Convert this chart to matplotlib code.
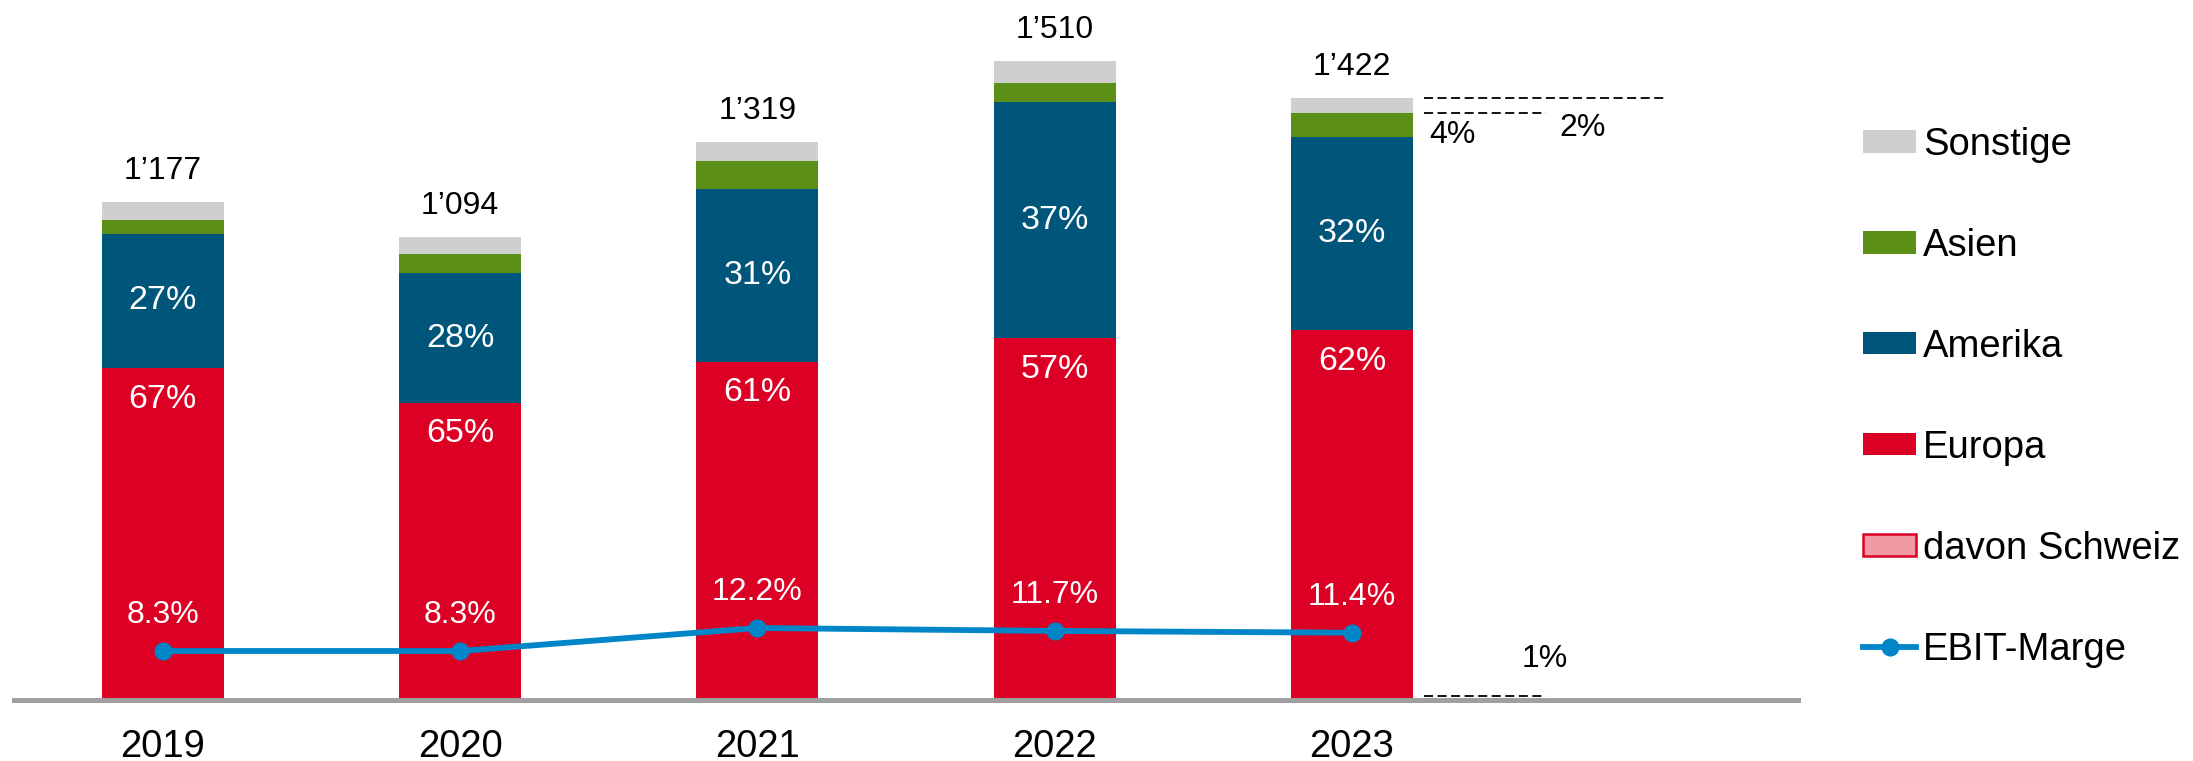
import matplotlib
matplotlib.use("Agg")
import matplotlib.pyplot as plt
from matplotlib.patches import Patch
from matplotlib.lines import Line2D

plt.rcParams['font.family'] = ['Liberation Sans', 'DejaVu Sans']

# Umsatz nach Regionen (Mio.)
jahre = ['2019', '2020', '2021', '2022', '2023']
europa = [784, 702, 799, 855, 874]
amerika = [318, 307, 409, 558, 456]
asien = [33, 45, 66, 45, 57]
sonstige = [42, 40, 45, 52, 35]
schweiz = [5, 5, 5, 5, 5]
total = [1177, 1094, 1319, 1510, 1422]
total_txt = ['1\u2019177', '1\u2019094', '1\u2019319', '1\u2019510', '1\u2019422']
europa_pct = ['67%', '65%', '61%', '57%', '62%']
amerika_pct = ['27%', '28%', '31%', '37%', '32%']
ebit = [8.3, 8.3, 12.2, 11.7, 11.4]
ebit_txt = ['8.3%', '8.3%', '12.2%', '11.7%', '11.4%']

# Anteile 2023 (Beschriftung rechts)
anteil_asien = '4%'
anteil_sonstige = '2%'
anteil_schweiz = '1%'

c_sonst = '#cfcfcf'
c_asien = '#5b8f16'
c_amer = '#00557a'
c_eur = '#dc0025'
c_ch = '#f19aa6'
c_ebit = '#0086c8'

fig = plt.figure(figsize=(21.93, 7.61), dpi=100)
ax = fig.add_axes([14/2193, 61/761, 1784/2193, 677/761])

x = list(range(len(jahre)))
w = 0.41

b_amer = europa
b_asien = [europa[i] + amerika[i] for i in x]
b_sonst = [b_asien[i] + asien[i] for i in x]

ax.bar(x, europa, w, color=c_eur, zorder=2)
ax.bar(x, schweiz, w*0.95, color=c_ch, edgecolor=c_eur, linewidth=0.8, zorder=3)
ax.bar(x, amerika, w, bottom=b_amer, color=c_amer, zorder=2)
ax.bar(x, asien, w, bottom=b_asien, color=c_asien, zorder=2)
ax.bar(x, sonstige, w, bottom=b_sonst, color=c_sonst, zorder=2)

ax.set_xlim(-0.5, 5.5)
ax.set_ylim(0, 1600)
ax.axhline(0, color='#a0a0a0', lw=3.6, zorder=4, clip_on=False)
for s in ax.spines.values():
    s.set_visible(False)
ax.set_xticks([])
ax.set_yticks([])

for i in x:
    ax.annotate(total_txt[i], (i, total[i]), xytext=(0, 31), textcoords='offset pixels',
                ha='center', va='center', fontsize=23, color='black')
    ax.text(i, europa[i] + amerika[i]/2, amerika_pct[i], ha='center', va='center',
            fontsize=24.5, color='white', zorder=5)
    ax.annotate(europa_pct[i], (i, europa[i]), xytext=(0, -31), textcoords='offset pixels',
                ha='center', va='center', fontsize=24.5, color='white', zorder=5)
    ax.annotate(jahre[i], (i, 0), xytext=(0, -47), textcoords='offset pixels',
                ha='center', va='center', fontsize=27.5, color='black')

# gestrichelte Hilfslinien 2023
dash = (0, (5, 2.5))
i = 4
ax.plot([4.243, 5.05], [total[i], total[i]], color='black', lw=1.3, ls=dash, zorder=3)
ax.plot([4.243, 4.654], [b_sonst[i], b_sonst[i]], color='black', lw=1.3, ls=dash, zorder=3)
ax.plot([4.243, 4.654], [schweiz[i] + 4, schweiz[i] + 4], color='black', lw=1.3, ls=dash, zorder=3)
ax.annotate(anteil_asien, (4.338, b_sonst[i]), xytext=(0, -22), textcoords='offset pixels',
            ha='center', va='center', fontsize=23)
ax.annotate(anteil_sonstige, (4.775, total[i]), xytext=(0, -30), textcoords='offset pixels',
            ha='center', va='center', fontsize=23)
ax.annotate(anteil_schweiz, (4.647, schweiz[i]), xytext=(0, 39), textcoords='offset pixels',
            ha='center', va='center', fontsize=23)

# EBIT-Marge auf zweiter Achse
ax2 = ax.twinx()
ax2.set_ylim(0, 114.7)
ax2.plot(x, ebit, color=c_ebit, lw=4.2, marker='o', markersize=12, zorder=6)
for i in x:
    ax2.annotate(ebit_txt[i], (i, ebit[i]), xytext=(0, 36), textcoords='offset pixels',
                 ha='center', va='center', fontsize=23, color='white')
for s in ax2.spines.values():
    s.set_visible(False)
ax2.set_yticks([])

handles = [
    Patch(facecolor=c_sonst, label='Sonstige'),
    Patch(facecolor=c_asien, label='Asien'),
    Patch(facecolor=c_amer, label='Amerika'),
    Patch(facecolor=c_eur, label='Europa'),
    Patch(facecolor=c_ch, edgecolor=c_eur, linewidth=1.8, label='davon Schweiz'),
    Line2D([0], [0], color=c_ebit, lw=4.2, marker='o', markersize=12, label='EBIT-Marge'),
]
fig.legend(handles=handles, loc='upper left', bbox_to_anchor=(1863/2193, (761-127)/761),
           frameon=False, fontsize=27.5, borderpad=0, borderaxespad=0,
           handlelength=1.39, handleheight=0.52, handletextpad=0.18, labelspacing=1.70)

fig.savefig('out.png', dpi=100)
